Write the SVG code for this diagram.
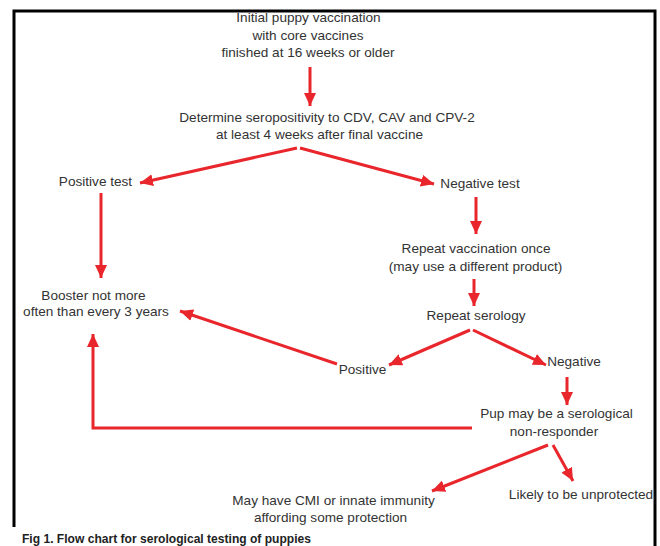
<svg xmlns="http://www.w3.org/2000/svg" width="660" height="546" viewBox="0 0 660 546">
<style>
.t{font-family:"Liberation Sans",Arial,sans-serif;font-size:13.6px;fill:#333;text-anchor:middle}
.c{stroke:#e8262b;stroke-width:3;fill:none;marker-end:url(#ah)}
.frame{stroke:#000;stroke-width:3;fill:none}
.cap{font-family:"Liberation Sans Narrow","Liberation Sans",Arial,sans-serif;font-size:13.5px;font-weight:bold;fill:#222}
</style>
<defs>
<marker id="ah" markerUnits="userSpaceOnUse" markerWidth="14" markerHeight="12" refX="13" refY="6" orient="auto">
<path d="M0,0 L13,6 L0,12 Z" fill="#e8262b"/>
</marker>
</defs>
<rect width="660" height="546" fill="#fff"/>
<g id="frame">
<path class="frame" d="M14,527 V11 H655 V546"/>
</g>
<g id="connectors">
<path class="c" d="M310,67 V106"/>
<path class="c" d="M297,148 L140,183"/>
<path class="c" d="M300,148 L434,184"/>
<path class="c" d="M101,193 V278"/>
<path class="c" d="M476,197 V234"/>
<path class="c" d="M474,279 V306"/>
<path class="c" d="M470,330 L389,365"/>
<path class="c" d="M473,330 L546,365"/>
<path class="c" d="M337,364 L180,311"/>
<path class="c" d="M567,377 V405"/>
<path class="c" d="M472,428 H93 V334"/>
<path class="c" d="M548,445 L432,491"/>
<path class="c" d="M553,445 L573,481"/>
</g>
<g id="n-initial">
<text class="t" x="308.5" y="22">Initial puppy vaccination</text>
<text class="t" x="308" y="40">with core vaccines</text>
<text class="t" x="308" y="57">finished at 16 weeks or older</text>
</g>
<g id="n-determine">
<text class="t" x="327" y="122">Determine seropositivity to CDV, CAV and CPV-2</text>
<text class="t" x="319.5" y="139">at least 4 weeks after final vaccine</text>
</g>
<g id="n-positive-test"><text class="t" x="95.5" y="186">Positive test</text></g>
<g id="n-negative-test"><text class="t" x="480" y="188">Negative test</text></g>
<g id="n-repeat-vacc">
<text class="t" x="476" y="253">Repeat vaccination once</text>
<text class="t" x="475.5" y="271">(may use a different product)</text>
</g>
<g id="n-repeat-serology"><text class="t" x="476" y="320">Repeat serology</text></g>
<g id="n-booster">
<text class="t" x="93.5" y="300">Booster not more</text>
<text class="t" x="96" y="316">often than every 3 years</text>
</g>
<g id="n-positive"><text class="t" x="362.5" y="374">Positive</text></g>
<g id="n-negative"><text class="t" x="574" y="366">Negative</text></g>
<g id="n-pup">
<text class="t" x="556.5" y="418">Pup may be a serological</text>
<text class="t" x="554" y="436">non-responder</text>
</g>
<g id="n-cmi">
<text class="t" x="333.5" y="505">May have CMI or innate immunity</text>
<text class="t" x="330.5" y="522">affording some protection</text>
</g>
<g id="n-unprotected"><text class="t" x="581" y="499">Likely to be unprotected</text></g>
<text class="cap" x="22" y="543" textLength="289" lengthAdjust="spacingAndGlyphs">Fig 1. Flow chart for serological testing of puppies</text>
</svg>
